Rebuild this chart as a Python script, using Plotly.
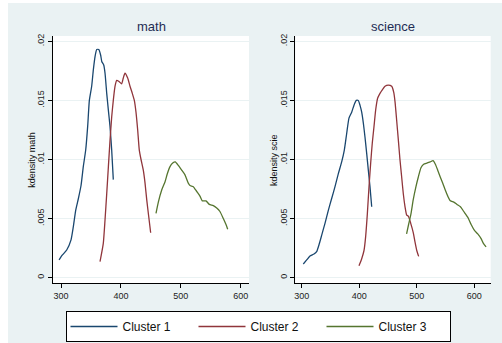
import plotly.graph_objects as go

# ---- data ----
math_c1_x = [296.7, 302, 309.5, 316.7, 320.5, 324.5, 329, 333.4, 337.2, 341.2, 344.5, 347.3, 351.2, 354, 356.8,
             359.6, 363, 366.3, 368, 371.3, 373.5, 376.3, 379, 381.8, 384.6, 387.3]
math_c1_y = [0.0015, 0.0019, 0.00234, 0.0032, 0.0043, 0.0057, 0.0067, 0.0078, 0.0094, 0.0108, 0.0128, 0.0150,
             0.0162, 0.0176, 0.0187, 0.0193, 0.0193, 0.0188, 0.0183, 0.0180, 0.0173, 0.0156, 0.0142, 0.0128,
             0.0108, 0.0083]
math_c2_x = [365.1, 370.6, 373.5, 376.3, 379.1, 381.8, 384.6, 387.3, 390.2, 393, 396.8, 401.3, 404, 406.8, 411.3,
             415.2, 419, 422.4, 425.2, 428, 430.7, 433.6, 437.4, 440.3, 443.1, 446.4, 449.7]
math_c2_y = [0.00135, 0.0029, 0.0049, 0.0071, 0.0094, 0.0116, 0.0136, 0.0150, 0.0162, 0.0167, 0.0166, 0.0164,
             0.0169, 0.0173, 0.0169, 0.0162, 0.0156, 0.0150, 0.0140, 0.0125, 0.0108, 0.0100, 0.0091, 0.0080,
             0.0066, 0.0052, 0.0038]
math_c3_x = [458.6, 462.5, 468, 473.6, 477.5, 482, 486.5, 490.8, 495.8, 501.5, 507, 512.5, 515.4, 520.9, 526.5,
             532, 535.9, 542, 547.6, 554.3, 560, 565.4, 571, 575.5, 578.3]
math_c3_y = [0.00545, 0.0064, 0.0074, 0.0081, 0.0088, 0.0094, 0.0097, 0.0098, 0.0095, 0.0091, 0.0087, 0.0080,
             0.0078, 0.0077, 0.0073, 0.0069, 0.0065, 0.0065, 0.0062, 0.0061, 0.0059, 0.0056, 0.0050, 0.0045,
             0.0041]

sci_c1_x = [302.8, 308.7, 314.4, 321.4, 326, 330, 334.8, 340.5, 346.3, 352.1, 357.9, 363.7, 369.5, 374.1, 378.2,
            382.2, 386.9, 390.9, 394.9, 398.4, 401.3, 404.3, 407.1, 410, 413, 415.8, 418.7, 421.7]
sci_c1_y = [0.00116, 0.0015, 0.00184, 0.0020, 0.0022, 0.00277, 0.0036, 0.0046, 0.0057, 0.0067, 0.0077, 0.0088,
            0.0098, 0.0108, 0.0122, 0.0135, 0.0140, 0.0146, 0.0150, 0.0150, 0.0146, 0.0140, 0.0131, 0.0119,
            0.0105, 0.0091, 0.0077, 0.0060]
sci_c2_x = [399.6, 404.3, 408.3, 411.2, 414.1, 417, 419.9, 422.7, 425.7, 428.6, 432.1, 436.1, 440.1, 444.8, 450.5,
            456.4, 459.9, 462.2, 465.1, 467.9, 470.8, 473.8, 476.6, 479.6, 482.5, 485.3, 489.5, 494, 497, 500,
            503.3]
sci_c2_y = [0.0010, 0.0016, 0.0023, 0.0035, 0.0054, 0.0077, 0.0097, 0.0114, 0.0128, 0.0142, 0.0152, 0.0156,
            0.0159, 0.0162, 0.0163, 0.0162, 0.0157, 0.0149, 0.0133, 0.0117, 0.0100, 0.0085, 0.0071, 0.0060,
            0.0053, 0.0052, 0.0046, 0.0038, 0.0030, 0.0023, 0.0018]
sci_c3_x = [482.3, 485.8, 489.9, 493.9, 498.6, 502.6, 507.3, 512, 517.7, 523.5, 528.2, 532.3, 536.4, 541, 545.2,
            549.7, 553.9, 558.5, 564.3, 570, 575.9, 581.7, 588.8, 594.5, 600.3, 606, 611.8, 615.8, 620.5]
sci_c3_y = [0.0037, 0.0045, 0.0054, 0.0066, 0.0077, 0.0085, 0.0093, 0.0096, 0.0097, 0.0098, 0.0099, 0.0096,
            0.0091, 0.0085, 0.0080, 0.0074, 0.0069, 0.0065, 0.0064, 0.0062, 0.0060, 0.0056, 0.0051, 0.0045,
            0.0040, 0.0037, 0.0033, 0.0029, 0.0026]

series_names = ["Cluster 1", "Cluster 2", "Cluster 3"]
series_colors = ["#1A476F", "#90353B", "#55752F"]
panel_titles = ["math", "science"]
y_titles = ["kdensity math", "kdensity scie"]
y_tickvals = [0, 0.005, 0.01, 0.015, 0.02]
y_ticktext = ["0", ".005", ".01", ".015", ".02"]
x_tickvals = [300, 400, 500, 600]

W, H = 502, 343
BG = "#EAF2F3"
FONT = "Liberation Sans, Arial, sans-serif"

fig = go.Figure()

panels = [
    ([math_c1_x, math_c2_x, math_c3_x], [math_c1_y, math_c2_y, math_c3_y], "x", "y"),
    ([sci_c1_x, sci_c2_x, sci_c3_x], [sci_c1_y, sci_c2_y, sci_c3_y], "x2", "y2"),
]
for p, (xs, ys, xa, ya) in enumerate(panels):
    for i in range(3):
        fig.add_trace(go.Scatter(
            x=xs[i], y=ys[i], mode="lines", name=series_names[i],
            line=dict(color=series_colors[i], width=1.3, shape="spline", smoothing=0.5),
            xaxis=xa, yaxis=ya, showlegend=(p == 0), legendgroup=series_names[i],
        ))

# pixel geometry of the two plot regions
px_top, px_bot = 36, 283
panels_px = [(53, 249, [286.6, 613.9]), (295.3, 490.7, [288.9, 628.5])]

axis_common = dict(
    showline=True, linecolor="#000000", linewidth=1, mirror=False,
    ticks="outside", ticklen=4, tickcolor="#000000", tickwidth=1,
    tickfont=dict(family=FONT, size=9, color="#222222"),
    zeroline=False, automargin=False,
)
for p, (l, r, xr) in enumerate(panels_px):
    sfx = "" if p == 0 else "2"
    fig.update_layout(**{
        "xaxis" + sfx: dict(axis_common, domain=[l / W, r / W], range=xr, tickvals=x_tickvals,
                            showgrid=False, anchor="y" + sfx),
        "yaxis" + sfx: dict(axis_common, domain=[1 - px_bot / H, 1 - px_top / H], range=[-0.00045, 0.02045],
                            tickvals=y_tickvals, ticktext=y_ticktext, tickangle=-90,
                            showgrid=True, gridcolor=BG, gridwidth=1, anchor="x" + sfx),
    })
    fig.add_annotation(text=panel_titles[p], x=(l + r) / 2 / W, y=1 - 26.7 / H, xref="paper", yref="paper",
                       showarrow=False, font=dict(family=FONT, size=13, color="#1E2D53"),
                       xanchor="center", yanchor="middle")
    fig.add_annotation(text=y_titles[p], x=(l - 21.3) / W, y=1 - 160 / H, xref="paper", yref="paper",
                       showarrow=False, textangle=-90, font=dict(family=FONT, size=9, color="#111111"),
                       xanchor="center", yanchor="middle")

# white outer border strips (top and left) of the reference image
fig.add_shape(type="rect", xref="paper", yref="paper", x0=0, x1=1, y0=1 - 3 / H, y1=1,
              fillcolor="white", line_width=0, layer="below")
fig.add_shape(type="rect", xref="paper", yref="paper", x0=0, x1=8 / W, y0=0, y1=1,
              fillcolor="white", line_width=0, layer="below")

fig.update_layout(
    width=W, height=H, margin=dict(l=0, r=0, t=0, b=0),
    paper_bgcolor=BG, plot_bgcolor="white",
    font=dict(family=FONT),
    legend=dict(orientation="h", x=258 / W, xanchor="center", y=1 - 311 / H, yanchor="top",
                bordercolor="#000000", borderwidth=1, bgcolor="white",
                font=dict(family=FONT, size=12, color="#111111"),
                entrywidth=66, entrywidthmode="pixels", itemwidth=47),
)

fig.write_html("out.html")
